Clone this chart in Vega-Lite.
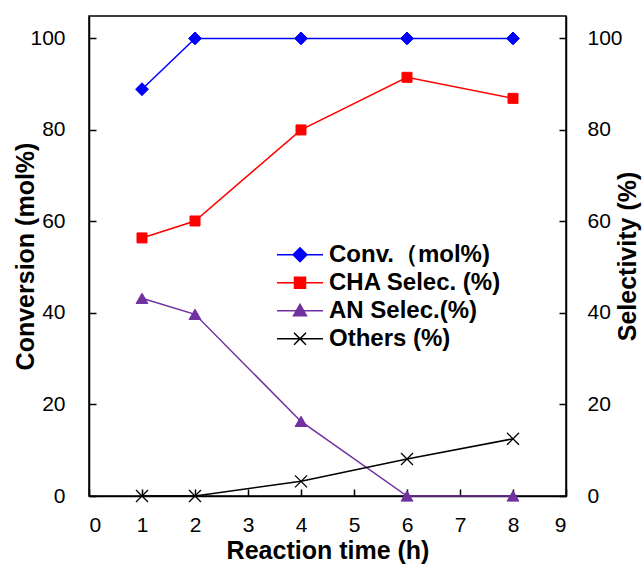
{
  "$schema": "https://vega.github.io/schema/vega-lite/v6.json",
  "width": 477,
  "height": 480,
  "autosize": {"type": "none"},
  "padding": {"left": 89, "top": 16, "right": 78, "bottom": 69},
  "background": "white",
  "config": {
    "view": {"stroke": "black", "strokeWidth": 1.5},
    "axis": {
      "grid": false,
      "domainColor": "black",
      "domainWidth": 1.5,
      "tickColor": "black",
      "tickWidth": 1.5,
      "tickSize": -7,
      "labelFont": "Liberation Sans",
      "labelFontSize": 21,
      "labelColor": "black",
      "titleFont": "Liberation Sans",
      "titleFontSize": 25,
      "titleFontWeight": "bold",
      "titleColor": "black"
    }
  },
  "data": {
    "values": [
      {"t": 1, "series": "Conv.（mol%)", "value": 88.9},
      {"t": 2, "series": "Conv.（mol%)", "value": 100},
      {"t": 4, "series": "Conv.（mol%)", "value": 100},
      {"t": 6, "series": "Conv.（mol%)", "value": 100},
      {"t": 8, "series": "Conv.（mol%)", "value": 100},
      {"t": 1, "series": "CHA Selec. (%)", "value": 56.4},
      {"t": 2, "series": "CHA Selec. (%)", "value": 60.1},
      {"t": 4, "series": "CHA Selec. (%)", "value": 80},
      {"t": 6, "series": "CHA Selec. (%)", "value": 91.5},
      {"t": 8, "series": "CHA Selec. (%)", "value": 86.9},
      {"t": 1, "series": "AN Selec.(%)", "value": 43.2},
      {"t": 2, "series": "AN Selec.(%)", "value": 39.7},
      {"t": 4, "series": "AN Selec.(%)", "value": 16.3},
      {"t": 6, "series": "AN Selec.(%)", "value": 0},
      {"t": 8, "series": "AN Selec.(%)", "value": 0},
      {"t": 1, "series": "Others (%)", "value": 0},
      {"t": 2, "series": "Others (%)", "value": 0},
      {"t": 4, "series": "Others (%)", "value": 3.2},
      {"t": 6, "series": "Others (%)", "value": 8.1},
      {"t": 8, "series": "Others (%)", "value": 12.5}
    ]
  },
  "encoding": {
    "x": {
      "field": "t",
      "type": "quantitative",
      "scale": {"domain": [0, 9], "nice": false, "zero": false},
      "axis": {
        "values": [0, 1, 2, 3, 4, 5, 6, 7, 8, 9],
        "labelPadding": 25,
        "title": "Reaction time  (h)",
        "titleY": 54,
        "titleBaseline": "middle",
        "titleAlign": "center"
      }
    }
  },
  "layer": [
    {
      "transform": [{"filter": "datum.series === 'Conv.（mol%)'"}],
      "encoding": {
        "y": {
          "field": "value",
          "type": "quantitative",
          "scale": {"domain": [0, 104.9], "nice": false},
          "axis": {
            "orient": "left",
            "values": [0, 20, 40, 60, 80, 100],
            "labelPadding": 31,
            "title": "Conversion (mol%)",
            "titleAngle": 270,
            "titleX": -64,
            "titleY": 240,
            "titleBaseline": "middle",
            "titleAlign": "center"
          }
        }
      },
      "layer": [
        {
          "mark": {"type": "line", "strokeWidth": 1.5},
          "encoding": {
            "color": {"field": "series", "type": "nominal"}
          }
        },
        {
          "mark": {"type": "point", "shape": "diamond", "size": 165, "filled": true, "fill": "#0000FF", "stroke": "#0000FF", "strokeWidth": 1, "opacity": 1}
        }
      ]
    },
    {
      "transform": [{"filter": "datum.series !== 'Conv.（mol%)'"}],
      "encoding": {
        "y": {
          "field": "value",
          "type": "quantitative",
          "scale": {"domain": [0, 104.9], "nice": false},
          "axis": {
            "orient": "right",
            "values": [0, 20, 40, 60, 80, 100],
            "labelPadding": 28,
            "title": "Selectivity (%)",
            "titleAngle": 270,
            "titleX": 61,
            "titleY": 240,
            "titleBaseline": "middle",
            "titleAlign": "center"
          }
        }
      },
      "layer": [
        {
          "mark": {"type": "line", "strokeWidth": 1.5},
          "encoding": {
            "color": {
              "field": "series",
              "type": "nominal",
              "scale": {"domain": ["Conv.（mol%)", "CHA Selec. (%)", "AN Selec.(%)", "Others (%)"],
                        "range": ["#0000FF", "#FF0000", "#7030A0", "#000000"]},
              "legend": {
                "orient": "none",
                "legendX": 187,
                "legendY": 225,
                "direction": "vertical",
                "title": null,
                "padding": 0,
                "labelFont": "Liberation Sans",
                "labelFontSize": 24,
                "labelFontWeight": "bold",
                "labelColor": "black",
                "labelLimit": 400,
                "labelOffset": 5,
                "rowPadding": 0,
                "clipHeight": 27.5,
                "symbolSize": 2116,
                "symbolStrokeWidth": 1.5,
                "encode": {
                  "symbols": {
                    "update": {
                      "shape": {"signal": "['M-1,0L1,0M0,-0.3L0.3,0L0,0.3L-0.3,0Z', 'M-1,0L1,0M-0.24,-0.24L0.24,-0.24L0.24,0.24L-0.24,0.24Z', 'M-1,0L1,0M0,-0.28L0.28,0.22L-0.28,0.22Z', 'M-1,0L1,0M-0.26,-0.26L0.26,0.26M-0.26,0.26L0.26,-0.26'][datum.index]"},
                      "fill": {"scale": "color", "field": "value"},
                      "stroke": {"scale": "color", "field": "value"},
                      "strokeWidth": {"value": 1.5},
                      "opacity": {"value": 1},
                      "fillOpacity": {"value": 1},
                      "strokeOpacity": {"value": 1}
                    }
                  }
                }
              }
            }
          }
        },
        {
          "transform": [{"filter": "datum.series === 'CHA Selec. (%)'"}],
          "mark": {"type": "point", "shape": "square", "size": 100, "filled": true, "fill": "#FF0000", "stroke": "#FF0000", "strokeWidth": 1, "opacity": 1}
        },
        {
          "transform": [{"filter": "datum.series === 'AN Selec.(%)'"}],
          "mark": {"type": "point", "shape": "triangle-up", "size": 140, "filled": true, "fill": "#7030A0", "stroke": "#7030A0", "strokeWidth": 1, "opacity": 1}
        },
        {
          "transform": [{"filter": "datum.series === 'Others (%)'"}],
          "mark": {"type": "point", "shape": "M-1,-1L1,1M-1,1L1,-1", "size": 144, "filled": false, "stroke": "#000000", "strokeWidth": 1.3, "opacity": 1}
        }
      ]
    }
  ],
  "resolve": {"scale": {"y": "independent"}}
}
